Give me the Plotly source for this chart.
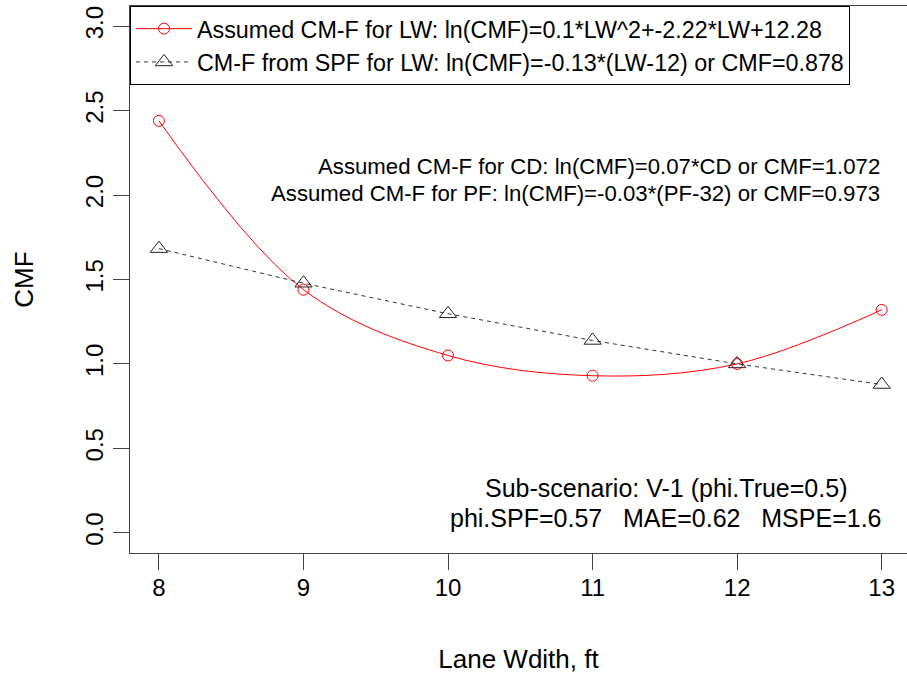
import plotly.graph_objects as go

# Lane width (ft) and crash modification factors
lane_width = [8, 9, 10, 11, 12, 13]
cmf_assumed = [2.44, 1.44, 1.05, 0.93, 1.00, 1.32]
cmf_spf = [1.683, 1.478, 1.297, 1.139, 1.000, 0.878]

x_ticks = [8, 9, 10, 11, 12, 13]
y_ticks = [0.0, 0.5, 1.0, 1.5, 2.0, 2.5, 3.0]
y_tick_text = ["0.0", "0.5", "1.0", "1.5", "2.0", "2.5", "3.0"]

legend_names = [
    "Assumed CM-F for LW: ln(CMF)=0.1*LW^2+-2.22*LW+12.28",
    "CM-F from SPF for LW: ln(CMF)=-0.13*(LW-12) or CMF=0.878",
]
note_lines = [
    "Assumed CM-F for CD: ln(CMF)=0.07*CD or CMF=1.072",
    "Assumed CM-F for PF: ln(CMF)=-0.03*(PF-32) or CMF=0.973",
]
scenario_lines = [
    "Sub-scenario: V-1 (phi.True=0.5)",
    "phi.SPF=0.57   MAE=0.62   MSPE=1.6",
]

FONT = "Liberation Sans, Arial, sans-serif"
AXIS_COLOR = "#444444"

fig = go.Figure()

fig.add_trace(go.Scatter(
    x=lane_width, y=cmf_assumed, name=legend_names[0],
    mode="lines+markers",
    line=dict(color="#FF0000", width=1, shape="spline"),
    marker=dict(symbol="circle-open", size=11, color="#FF0000", line=dict(width=1)),
))
fig.add_trace(go.Scatter(
    x=lane_width, y=cmf_spf, name=legend_names[1],
    mode="lines+markers",
    line=dict(color="#333333", width=1, dash="4px,4px"),
    marker=dict(symbol="triangle-up-open", size=15, color="#222222", line=dict(width=1)),
))

for i, txt in enumerate(note_lines):
    fig.add_annotation(x=13, y=[2.17, 2.01][i], text=txt, showarrow=False,
                       xanchor="right", yanchor="middle",
                       font=dict(family=FONT, size=22.2, color="black"))
for i, txt in enumerate(scenario_lines):
    fig.add_annotation(x=11.505, y=[0.268, 0.085][i], text=txt, showarrow=False,
                       xanchor="center", yanchor="middle",
                       font=dict(family=FONT, size=25, color="black"))

fig.update_layout(
    width=907, height=679,
    margin=dict(l=130, r=0, t=6, b=126, pad=0),
    paper_bgcolor="white", plot_bgcolor="white",
    font=dict(family=FONT, size=24, color="black"),
    showlegend=True,
    legend=dict(
        x=0, y=1, xanchor="left", yanchor="top",
        bordercolor="black", borderwidth=1, bgcolor="white",
        font=dict(family=FONT, size=23.3, color="black"),
        itemwidth=56, tracegroupgap=0,
    ),
    xaxis=dict(
        range=[7.8, 13.175], tickvals=x_ticks, ticktext=[str(v) for v in x_ticks],
        showgrid=False, zeroline=False,
        showline=True, linecolor=AXIS_COLOR, linewidth=1, mirror=True,
        ticks="outside", ticklen=16, tickcolor=AXIS_COLOR, tickwidth=1,
        ticklabelstandoff=-3, tickfont=dict(size=24),
        title=dict(text="Lane Wdith, ft", standoff=50, font=dict(size=26)),
        automargin=False,
    ),
    yaxis=dict(
        range=[-0.12, 3.12], tickvals=y_ticks, ticktext=y_tick_text,
        showgrid=False, zeroline=False,
        showline=True, linecolor=AXIS_COLOR, linewidth=1, mirror=False,
        ticks="outside", ticklen=16, tickcolor=AXIS_COLOR, tickwidth=1,
        tickangle=-90, ticklabelstandoff=0, tickfont=dict(size=24),
        title=dict(text="CMF", standoff=40, font=dict(size=26)),
        automargin=False,
    ),
)

fig.write_html("out.html")
